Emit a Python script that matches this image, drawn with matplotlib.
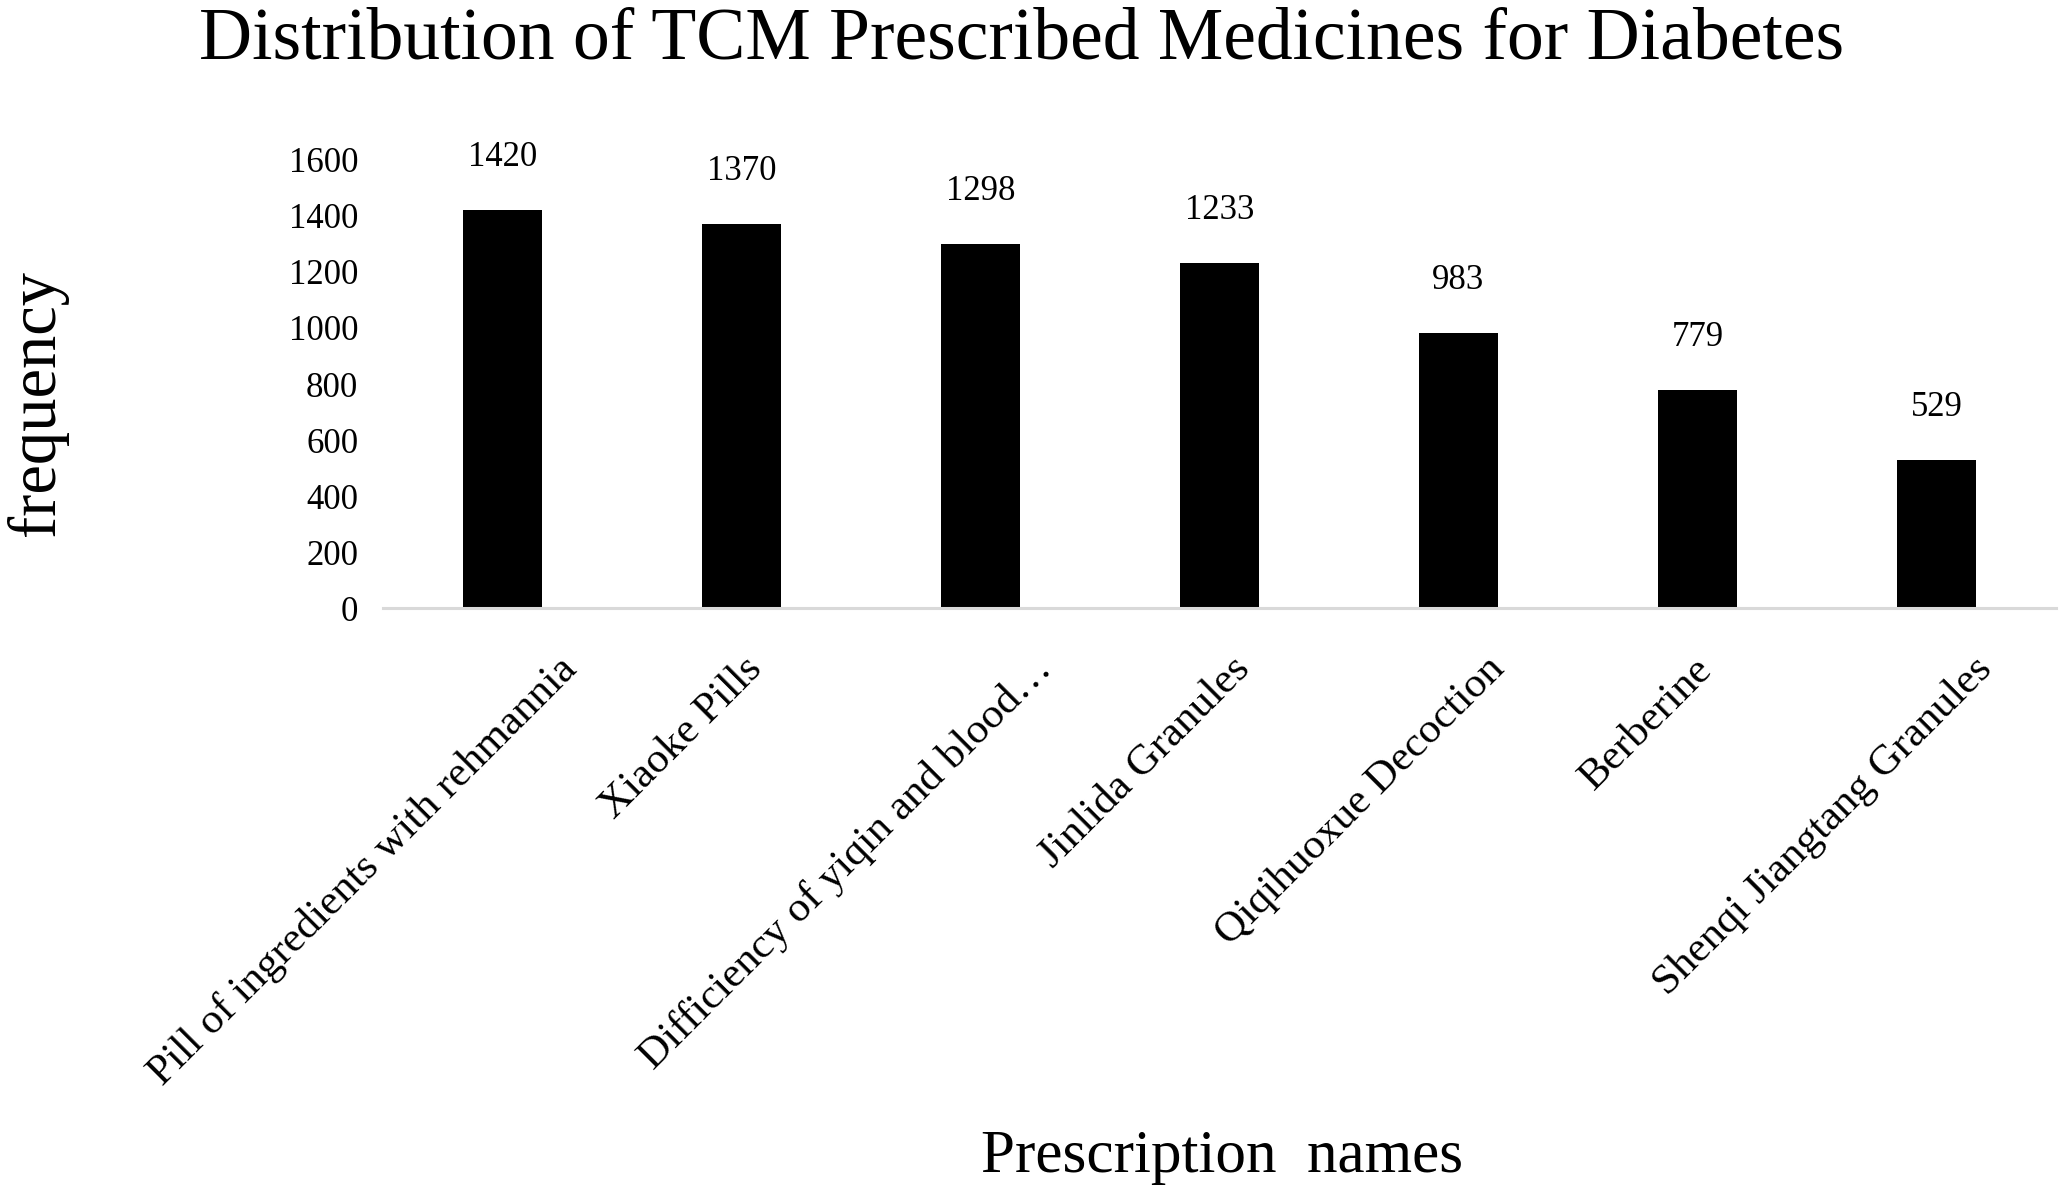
import matplotlib.pyplot as plt
from matplotlib.transforms import ScaledTranslation

# data
names = [
    "Pill of ingredients with rehmannia",
    "Xiaoke Pills",
    "Difficiency of yiqin and blood\u2026",
    "Jinlida Granules",
    "Qiqihuoxue Decoction",
    "Berberine",
    "Shenqi Jiangtang Granules",
]
freq = [1420, 1370, 1298, 1233, 983, 779, 529]
yticks = [0, 200, 400, 600, 800, 1000, 1200, 1400, 1600]

plt.rcParams['font.family'] = ['Liberation Serif', 'DejaVu Serif']

fig = plt.figure(figsize=(20.6, 12.02), dpi=100)
ax = fig.add_axes([0.186, 0.494, 0.812, 0.373])

x = list(range(len(names)))
ax.bar(x, freq, width=0.33, color='black')

# value labels above bars
for xi, v in zip(x, freq):
    ax.annotate(str(v), (xi, v), xytext=(0, 26), textcoords='offset points',
                ha='center', va='bottom', fontsize=25, annotation_clip=False)

ax.set_xlim(-0.5, len(names) - 0.5)
ax.set_ylim(0, 1600)
ax.set_yticks(yticks)
ax.set_yticklabels([str(t) for t in yticks], fontsize=25)
ax.tick_params(axis='y', length=0, pad=18)

ax.set_xticks(x)
ax.set_xticklabels(names, fontsize=31, rotation=45, ha='right',
                   rotation_mode='anchor')
ax.tick_params(axis='x', length=0, pad=30)

# Excel pushes longer rotated labels further right
renderer = fig.canvas.get_renderer()
for lab in ax.get_xticklabels():
    w, h, d = renderer.get_text_width_height_descent(
        lab.get_text(), lab.get_fontproperties(), ismath=False)
    dx = 0.142 * w - 29
    shift = ScaledTranslation(dx / fig.dpi, 0, fig.dpi_scale_trans)
    lab.set_transform(lab.get_transform() + shift)

for s in ['top', 'right', 'left']:
    ax.spines[s].set_visible(False)
ax.spines['bottom'].set_color('#d9d9d9')
ax.spines['bottom'].set_linewidth(2.2)

fig.text(0.496, 0.966, 'Distribution of TCM Prescribed Medicines for Diabetes',
         ha='center', va='center', fontsize=53)
fig.text(0.018, 0.665, 'frequency', rotation=90, ha='center', va='center',
         fontsize=48)
fig.text(0.593, 0.037, 'Prescription  names', ha='center', va='center',
         fontsize=44)

fig.savefig('out.png', dpi=100)
